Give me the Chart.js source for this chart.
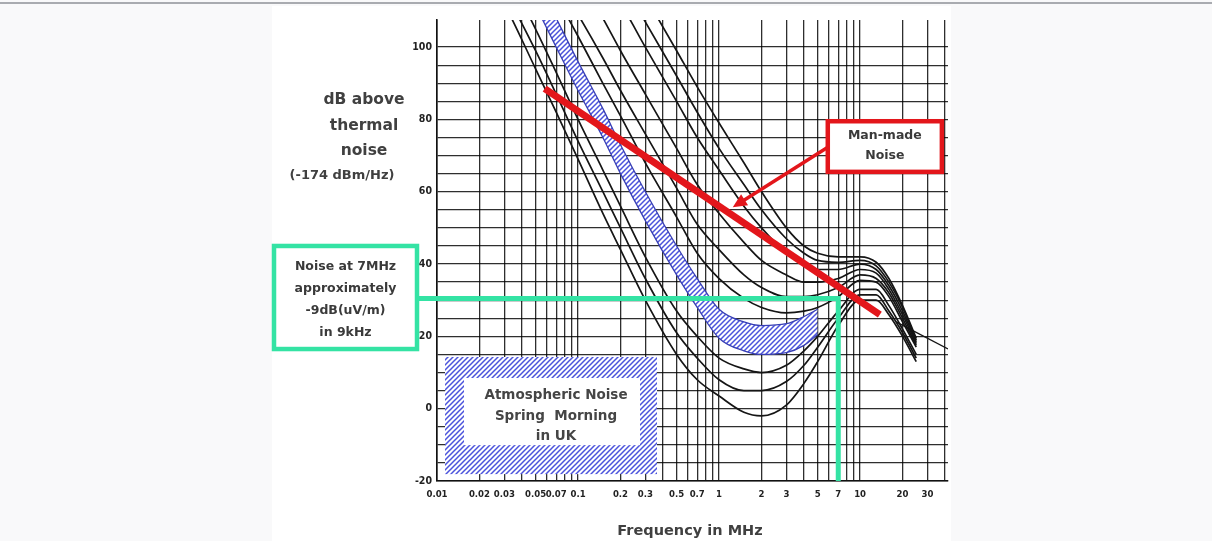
<!DOCTYPE html>
<html>
<head>
<meta charset="utf-8">
<title>Atmospheric and man-made noise</title>
<script src="https://cdn.jsdelivr.net/npm/chart.js@4.4.1/dist/chart.umd.min.js"></script>
<style>
    html, body { margin: 0; padding: 0; background: #f9f9fa; }
    body { width: 1212px; height: 541px; position: relative; overflow: hidden; }
    .topline { position: absolute; left: 0; top: 2px; width: 1212px; height: 2px; background: #a9abb0; }
    .panel { position: absolute; left: 272px; top: 6px; width: 679px; height: 535px; background: #fff; }
    #noiseChart { position: absolute; left: 0; top: 0; }
</style>
</head>
<body>
<div class="topline"></div>
<div class="panel"></div>
<canvas id="noiseChart" width="1212" height="541"></canvas>
<script>
// Axis grid and labels
const gridFreqs = [0.01, 0.02, 0.03, 0.04, 0.05, 0.06, 0.07, 0.08, 0.09,
    0.1, 0.2, 0.3, 0.4, 0.5, 0.6, 0.7, 0.8, 0.9,
    1, 2, 3, 4, 5, 6, 7, 8, 9,
    10, 20, 30, 40];
const freqLabels = [0.01, 0.02, 0.03, 0.05, 0.07, 0.1, 0.2, 0.3, 0.5, 0.7, 1, 2, 3, 5, 7, 10, 20, 30];
const dbLabels = [100, 80, 60, 40, 20, 0, -20];

// Atmospheric noise curves (dB above thermal)
const curveFreqs = [0.02, 0.03, 0.05, 0.07, 0.1, 0.15, 0.2, 0.3, 0.5, 0.7, 1, 1.5, 2, 3, 4, 5, 7, 10, 13, 16, 20, 25];
const atmos1 = [124, 112, 94, 82, 69, 54, 44, 30, 15, 8, 3.5, -1, -2, 1, 7, 13, 23, 30, 30, 26, 20, 13];
const atmos2 = [null, 116, 99, 87, 74, 60, 50, 36, 21, 14, 8, 5, 5, 7.5, 12, 17, 25, 31.5, 31.5, 27, 21, 14];
const atmos3 = [null, 122, 105, 93, 80, 66, 56, 42, 27, 20, 14, 11, 10, 12, 16, 20, 27, 33, 33, 28.5, 22, 15];
const atmos4 = [null, null, 124, 114, 103, 90, 81, 68, 53, 43, 36, 30.5, 28, 26.5, 27, 28, 31, 35.5, 35, 31, 24, 17];
const atmos5 = [null, null, null, 119, 109, 97, 88, 76, 61, 51, 44, 37, 33.5, 31, 31, 31.5, 33.5, 37, 36, 32, 25, 17.5];
const atmos6 = [null, null, null, null, 120, 108, 99, 87, 72, 62, 54, 46, 41, 37, 35, 35, 36, 38.5, 37.5, 33, 26, 18];
const atmos7 = [null, null, null, null, null, 118, 112, 100, 85, 75, 66, 56, 50, 43, 40, 38.5, 38.5, 40, 38.5, 34, 27, 18.5];
const atmos8 = [null, null, null, null, null, null, 119, 107, 92, 82, 72, 62, 55, 47, 43, 41, 40.5, 41, 39.5, 35, 28, 19];
const atmos9 = [null, null, null, null, null, null, null, 114, 99, 89, 79, 68, 60, 50, 45, 43, 42, 42, 40.5, 36, 28.5, 19.5];

// Highlighted band (spring morning in UK)
const bandHigh = [null, null, 119.5, 108, 96, 83, 73, 60, 45, 36, 27.5, 24, 23, 23.5, 25.5, 27.5, null, null, null, null, null, null];
const bandLow = [null, null, 111.5, 100, 88, 75, 65, 52, 37, 28, 19.5, 16, 15, 15.5, 17.5, 20.5, null, null, null, null, null, null];

// Tail line beyond the bump
const galFreqs = [18, 42];
const galDb = [24, 16.5];

// Man-made noise line
const manFreqs = [0.058, 13.8];
const manDb = [88.5, 26];

// Noise reading at 7 MHz
const noise7Freq = 7;
const noise7Db = 30.5;

// Annotation anchors (data units)
const atmosBox = { f1: 0.0114, f2: 0.363, dbTop: 14.3, dbBottom: -18.1 };
const manMadeBox = { f1: 5.9, f2: 38, dbTop: 79.5, dbBottom: 65.5 };
const manMadeArrow = { fromF: 5.9, fromDb: 72.3, toF: 1.25, toDb: 55.7 };
const noiseBox = { dbTop: 45, dbBottom: 16.5 };

const RED = '#e3161b';
const GREEN = '#34e3a4';
const HATCH = '#4b53dc';
const TEXT = '#3a3a3a';
const BOLD = '"DejaVu Sans", "Liberation Sans", Arial, sans-serif';
const NARROW = '"Liberation Sans Narrow", "DejaVu Sans Condensed", Arial, sans-serif';

const ctx = document.getElementById('noiseChart').getContext('2d');

function makeHatch(color) {
    const tile = document.createElement('canvas');
    tile.width = 5;
    tile.height = 5;
    const g = tile.getContext('2d');
    g.fillStyle = '#ffffff';
    g.fillRect(0, 0, 5, 5);
    g.strokeStyle = color;
    g.lineWidth = 1.5;
    g.beginPath();
    g.moveTo(-1, 6); g.lineTo(6, -1);
    g.moveTo(-1, 1); g.lineTo(1, -1);
    g.moveTo(4, 6); g.lineTo(6, 4);
    g.stroke();
    return ctx.createPattern(tile, 'repeat');
}

function toPoints(freqs, values) {
    return freqs.map((f, i) => ({ x: f, y: values[i] })).filter(p => p.y !== null);
}

const hatch = makeHatch(HATCH);

const datasets = [atmos1, atmos2, atmos3, atmos4, atmos5, atmos6, atmos7, atmos8, atmos9].map(vals => ({
    data: toPoints(curveFreqs, vals),
    borderColor: '#151515',
    borderWidth: 1.7,
    pointRadius: 0,
    cubicInterpolationMode: 'monotone',
    fill: false,
    order: 3
}));

datasets.push({
    data: toPoints(curveFreqs, bandLow),
    borderColor: '#383fb5',
    borderWidth: 1.3,
    pointRadius: 0,
    cubicInterpolationMode: 'monotone',
    fill: false,
    order: 2
});
datasets.push({
    data: toPoints(curveFreqs, bandHigh),
    borderColor: '#383fb5',
    borderWidth: 1.3,
    pointRadius: 0,
    cubicInterpolationMode: 'monotone',
    fill: '-1',
    backgroundColor: hatch,
    order: 2
});
datasets.push({
    data: toPoints(galFreqs, galDb),
    borderColor: '#151515',
    borderWidth: 1.3,
    pointRadius: 0,
    fill: false,
    order: 1
});
datasets.push({
    data: toPoints(manFreqs, manDb),
    borderColor: RED,
    borderWidth: 7,
    borderCapStyle: 'butt',
    pointRadius: 0,
    fill: false,
    order: 0
});
const manMadeIndex = datasets.length - 1;

function px(chart, f, db) {
    return { x: chart.scales.x.getPixelForValue(f), y: chart.scales.y.getPixelForValue(db) };
}

function drawLines(c, lines, x, y0, step, font, color) {
    c.font = font;
    c.fillStyle = color;
    c.textAlign = 'center';
    c.textBaseline = 'middle';
    lines.forEach((t, i) => c.fillText(t, x, y0 + i * step));
}

const notesPlugin = {
    id: 'notes',
    beforeDatasetsDraw(chart) {
        // Hatched "Atmospheric Noise" box
        const c = chart.ctx;
        const a = px(chart, atmosBox.f1, atmosBox.dbTop);
        const b = px(chart, atmosBox.f2, atmosBox.dbBottom);
        c.save();
        c.fillStyle = hatch;
        c.fillRect(a.x, a.y, b.x - a.x, b.y - a.y);
        c.fillStyle = '#ffffff';
        c.fillRect(a.x + 19, a.y + 21, b.x - a.x - 36, b.y - a.y - 50);
        drawLines(c, ['Atmospheric Noise', 'Spring  Morning', 'in UK'], (a.x + b.x) / 2 + 5, a.y + 39, 20.5,
            'bold 13.5px ' + BOLD, '#454545');
        c.restore();
    },
    beforeDatasetDraw(chart, args) {
        if (args.index !== manMadeIndex) return;
        // Green guide at 7 MHz, under the red line
        const c = chart.ctx;
        const area = chart.chartArea;
        const p = px(chart, noise7Freq, noise7Db);
        c.save();
        c.strokeStyle = GREEN;
        c.lineWidth = 5;
        c.lineJoin = 'miter';
        c.beginPath();
        c.moveTo(area.left - 20, p.y);
        c.lineTo(p.x, p.y);
        c.lineTo(p.x, area.bottom);
        c.stroke();
        c.restore();
    },
    afterDraw(chart) {
        const c = chart.ctx;
        const area = chart.chartArea;
        c.save();

        // Man-made noise arrow
        const t = px(chart, manMadeArrow.fromF, manMadeArrow.fromDb);
        const h = px(chart, manMadeArrow.toF, manMadeArrow.toDb);
        const ang = Math.atan2(h.y - t.y, h.x - t.x);
        c.strokeStyle = RED;
        c.fillStyle = RED;
        c.lineWidth = 3.5;
        c.beginPath();
        c.moveTo(t.x, t.y);
        c.lineTo(h.x - 10 * Math.cos(ang), h.y - 10 * Math.sin(ang));
        c.stroke();
        c.beginPath();
        c.moveTo(h.x, h.y);
        c.lineTo(h.x - 14 * Math.cos(ang) + 6.5 * Math.sin(ang), h.y - 14 * Math.sin(ang) - 6.5 * Math.cos(ang));
        c.lineTo(h.x - 14 * Math.cos(ang) - 6.5 * Math.sin(ang), h.y - 14 * Math.sin(ang) + 6.5 * Math.cos(ang));
        c.closePath();
        c.fill();

        // Man-made noise box
        const m1 = px(chart, manMadeBox.f1, manMadeBox.dbTop);
        const m2 = px(chart, manMadeBox.f2, manMadeBox.dbBottom);
        c.fillStyle = '#ffffff';
        c.fillRect(m1.x, m1.y, m2.x - m1.x, m2.y - m1.y);
        c.lineWidth = 4.5;
        c.strokeStyle = RED;
        c.strokeRect(m1.x, m1.y, m2.x - m1.x, m2.y - m1.y);
        drawLines(c, ['Man-made', 'Noise'], (m1.x + m2.x) / 2, m1.y + 15, 20, 'bold 12.5px ' + BOLD, TEXT);

        // Noise at 7 MHz box
        const yTop = chart.scales.y.getPixelForValue(noiseBox.dbTop);
        const yBot = chart.scales.y.getPixelForValue(noiseBox.dbBottom);
        const bx1 = area.left - 163;
        const bx2 = area.left - 20;
        c.fillStyle = '#ffffff';
        c.fillRect(bx1, yTop, bx2 - bx1, yBot - yTop);
        c.lineWidth = 4.5;
        c.strokeStyle = GREEN;
        c.strokeRect(bx1, yTop, bx2 - bx1, yBot - yTop);
        drawLines(c, ['Noise at 7MHz', 'approximately', '-9dB(uV/m)', 'in 9kHz'], (bx1 + bx2) / 2, yTop + 21, 22,
            'bold 12.5px ' + BOLD, TEXT);

        // Axis titles
        drawLines(c, ['dB above', 'thermal', 'noise'], area.left - 73, 100, 25.5, 'bold 15.5px ' + BOLD, '#404040');
        drawLines(c, ['(-174 dBm/Hz)'], area.left - 95, 176, 0, 'bold 13px ' + BOLD, '#404040');
        drawLines(c, ['Frequency in MHz'], area.left + 253, 531, 0, 'bold 14.5px ' + BOLD, '#404040');

        c.restore();
    }
};

const noiseChart = new Chart(ctx, {
    type: 'line',
    data: { datasets: datasets },
    options: {
        responsive: false,
        animation: false,
        events: [],
        layout: { padding: { left: 397, right: 264, top: 20, bottom: 0 } },
        plugins: {
            legend: { display: false },
            tooltip: { enabled: false }
        },
        scales: {
            x: {
                type: 'logarithmic',
                min: 0.01,
                max: 42,
                afterBuildTicks: axis => { axis.ticks = gridFreqs.map(v => ({ value: v })); },
                afterFit: axis => { axis.height = 60; },
                grid: { color: 'rgba(0,0,0,0.82)', lineWidth: 1.3, drawTicks: false },
                border: { color: '#111', width: 1.6 },
                ticks: {
                    autoSkip: false,
                    maxRotation: 0,
                    padding: 8,
                    color: '#222',
                    font: { family: NARROW, size: 9.5, weight: 'bold' },
                    callback: v => freqLabels.includes(v) ? String(v) : ''
                }
            },
            y: {
                type: 'linear',
                min: -20,
                max: 107.5,
                afterBuildTicks: axis => { axis.ticks = axis.ticks.filter(t => t.value % 5 === 0); },
                afterFit: axis => { axis.width = 40; },
                grid: { color: 'rgba(0,0,0,0.82)', lineWidth: 1.3, drawTicks: false },
                border: { color: '#111', width: 1.6 },
                ticks: {
                    stepSize: 5,
                    padding: 5,
                    color: '#222',
                    font: { family: NARROW, size: 10.5, weight: 'bold' },
                    callback: v => dbLabels.includes(v) ? String(v) : ''
                }
            }
        }
    },
    plugins: [notesPlugin]
});
</script>
</body>
</html>
